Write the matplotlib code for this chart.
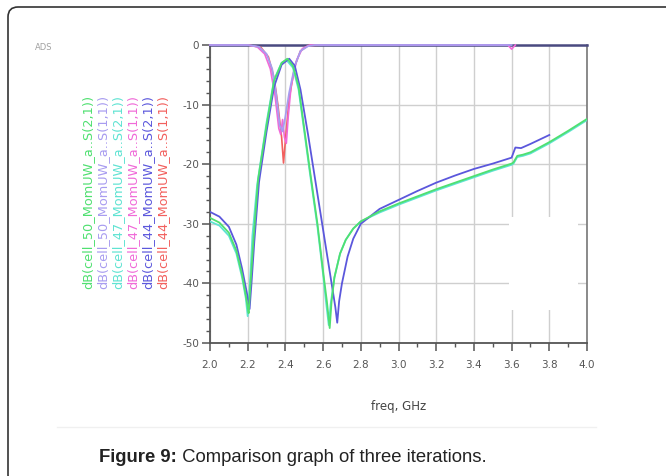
import matplotlib
matplotlib.use("Agg")
import matplotlib.pyplot as plt
from matplotlib.patches import FancyBboxPatch, Rectangle
from matplotlib.ticker import MultipleLocator

# S(2,1) traces (freq in GHz, level in dB)
f21_c50 = [2.0, 2.05, 2.1, 2.14, 2.17, 2.19, 2.2, 2.205, 2.215, 2.23, 2.255, 2.3, 2.34, 2.38, 2.41,
           2.44, 2.47, 2.5, 2.53, 2.57, 2.6, 2.62, 2.635, 2.645, 2.66, 2.69, 2.72, 2.76, 2.8,
           2.9, 3.0, 3.1, 3.2, 3.3, 3.4, 3.5, 3.6, 3.61, 3.63, 3.66, 3.7, 3.8, 3.9, 4.0]
s21_c50 = [-29.0, -29.8, -31.5, -34.5, -38.5, -42.0, -44.0, -45.0, -40.0, -33.0, -22.6, -13.5, -6.0, -3.0, -2.3,
           -3.5, -7.0, -14.0, -21.0, -30.0, -38.0, -43.0, -47.5, -43.0, -39.0, -35.0, -32.7, -30.8, -29.6,
           -27.9, -26.6, -25.4, -24.2, -23.1, -22.0, -20.9, -19.9, -19.7, -18.6, -18.4, -18.0, -16.3, -14.4, -12.4]

f21_c47 = [2.0, 2.05, 2.1, 2.14, 2.17, 2.19, 2.2, 2.21, 2.225, 2.25, 2.3, 2.34, 2.38, 2.405,
           2.44, 2.47, 2.5, 2.53, 2.57, 2.6, 2.615, 2.63, 2.64, 2.66, 2.69, 2.72, 2.76, 2.8,
           2.9, 3.0, 3.1, 3.2, 3.3, 3.4, 3.5, 3.6, 3.61, 3.63, 3.66, 3.7, 3.8, 3.9, 4.0]
s21_c47 = [-29.6, -30.3, -32.0, -35.0, -39.0, -42.5, -45.5, -41.0, -32.0, -23.5, -13.0, -5.8, -3.0, -2.5,
           -3.8, -7.5, -14.5, -21.5, -30.5, -38.5, -43.0, -47.0, -43.5, -39.0, -35.0, -32.7, -30.8, -29.6,
           -28.1, -26.8, -25.6, -24.4, -23.3, -22.2, -21.1, -20.1, -19.9, -18.8, -18.6, -18.2, -16.5, -14.6, -12.6]

f21_c44 = [2.0, 2.05, 2.1, 2.14, 2.17, 2.195, 2.21, 2.22, 2.235, 2.26, 2.3, 2.34, 2.38, 2.42,
           2.45, 2.48, 2.52, 2.55, 2.6, 2.64, 2.665, 2.675, 2.685, 2.7, 2.73, 2.76, 2.8,
           2.9, 3.0, 3.1, 3.2, 3.3, 3.4, 3.5, 3.58, 3.6, 3.62, 3.65, 3.7, 3.8]
s21_c44 = [-28.0, -28.8, -30.5, -33.5, -37.5, -41.5, -44.3, -40.0, -33.0, -23.0, -14.5, -7.0, -3.3, -2.3,
           -3.5, -7.5, -15.0, -21.0, -31.0, -39.0, -44.0, -46.6, -43.0, -40.0, -35.5, -32.5, -30.0,
           -27.5, -26.0, -24.5, -23.1, -21.9, -20.8, -19.9, -19.1, -18.9, -17.2, -17.3, -16.6, -15.1]

# S(1,1) traces
f11_c50 = [2.0, 2.2, 2.26, 2.3, 2.33, 2.35, 2.37, 2.385, 2.4, 2.42, 2.45, 2.48, 2.52, 2.56, 3.6]
s11_c50 = [0.0, 0.0, -0.3, -1.5, -4.0, -8.0, -13.5, -14.5, -12.0, -8.0, -3.5, -1.0, -0.2, 0.0, 0.0]

f11_c47 = [2.0, 2.2, 2.25, 2.29, 2.32, 2.345, 2.365, 2.375, 2.385, 2.395, 2.405, 2.415, 2.43, 2.46,
           2.49, 2.53, 3.58, 3.6, 3.62]
s11_c47 = [0.0, 0.0, -0.3, -1.5, -4.0, -8.5, -14.0, -15.0, -12.5, -15.5, -16.5, -12.0, -7.0, -2.5,
           -0.6, 0.0, 0.0, -0.7, 0.0]

f11_c44 = [2.0, 2.2, 2.27, 2.31, 2.34, 2.36, 2.38, 2.39, 2.4, 2.42, 2.45, 2.48, 2.52, 2.6]
s11_c44 = [0.0, 0.0, -0.4, -2.0, -5.5, -10.0, -15.5, -19.8, -16.0, -9.0, -3.5, -1.0, -0.1, 0.0]

labels = ["dB(cell_50_MomUW_a..S(2,1))", "dB(cell_50_MomUW_a..S(1,1))",
          "dB(cell_47_MomUW_a..S(2,1))", "dB(cell_47_MomUW_a..S(1,1))",
          "dB(cell_44_MomUW_a..S(2,1))", "dB(cell_44_MomUW_a..S(1,1))"]
colors = ["#4fe070", "#a89cf0", "#5fe3d2", "#f06ad8", "#5b57dc", "#f2605e"]

xticks = [2.0, 2.2, 2.4, 2.6, 2.8, 3.0, 3.2, 3.4, 3.6, 3.8, 4.0]
yticks = [0, -10, -20, -30, -40, -50]

W, H = 666, 476
fig = plt.figure(figsize=(W / 100, H / 100), dpi=100)
fig.patch.set_facecolor("white")

# outer card frame
frame = FancyBboxPatch((0.08, -0.09), 7.3, 4.78, boxstyle="round,pad=0,rounding_size=0.1",
                       transform=fig.dpi_scale_trans, facecolor="none", edgecolor="#333333", lw=1.2)
fig.add_artist(frame)

ax = fig.add_axes([210 / W, 1 - 343 / H, 377 / W, 298 / H])
ax.set_xlim(2.0, 4.0)
ax.set_ylim(-50, 0)
ax.set_axisbelow(True)
ax.grid(True, which="major", color="#cfcfcf", lw=1.0)

# draw order: underneath first
ax.plot(f11_c44, s11_c44, color=colors[5], lw=1.2, clip_on=False, zorder=3)
ax.plot(f11_c47, s11_c47, color=colors[3], lw=1.2, clip_on=False, zorder=3)
ax.plot(f11_c50, s11_c50, color=colors[1], lw=1.3, clip_on=False, zorder=3)
ax.plot(f21_c47, s21_c47, color=colors[2], lw=1.3, zorder=3)
ax.plot(f21_c44, s21_c44, color=colors[4], lw=1.3, zorder=3)
ax.plot(f21_c50, s21_c50, color=colors[0], lw=1.3, zorder=3)

# blank patch in the scanned figure
ax.add_patch(Rectangle((3.585, -44.5), 0.365, 15.7, facecolor="white", edgecolor="none", zorder=1))

for s in ["left", "bottom"]:
    ax.spines[s].set_color("#555555")
    ax.spines[s].set_linewidth(1.3)
ax.spines["right"].set_color("#777777")
ax.spines["right"].set_linewidth(1.2)
ax.spines["top"].set_color("#4a4a80")
ax.spines["top"].set_linewidth(1.8)

ax.set_xticks(xticks)
ax.set_xticklabels([f"{v:.1f}" for v in xticks])
ax.set_yticks(yticks)
ax.set_yticklabels([str(v) for v in yticks])
ax.xaxis.set_minor_locator(MultipleLocator(0.1))
ax.yaxis.set_minor_locator(MultipleLocator(2))
ax.tick_params(which="major", length=6, width=1.1, color="#555555", labelsize=7.5,
               labelcolor="#555555", pad=6)
ax.tick_params(which="minor", length=3, width=1.0, color="#555555")
ax.tick_params(axis="y", pad=2)
ax.set_xlabel("freq, GHz", fontsize=8.5, color="#444444", labelpad=22)

# rotated legend column
xs = [88, 103, 118, 133, 148, 163]
for x, lab, c in zip(xs, labels, colors):
    fig.text(x / W, 1 - 192 / H, lab, rotation=90, ha="center", va="center",
             fontsize=9.3, color=c, family="DejaVu Sans")

fig.text(44 / W, 1 - 47 / H, "ADS", fontsize=6, color="#a0a0a0", ha="center", va="center")

# faint bottom edge of the pasted image
fig.add_artist(plt.Line2D([57 / W, 596 / W], [1 - 427 / H] * 2, color="#f0f0f0", lw=1,
                          transform=fig.transFigure))

# caption
t1 = fig.text(99 / W, 1 - 457 / H, "Figure 9:", fontsize=13.3, fontweight="bold",
              family="Liberation Sans", color="#222222", va="center")
fig.canvas.draw()
bb = t1.get_window_extent()
fig.text(bb.x1 / W, 1 - 457 / H, " Comparison graph of three iterations.", fontsize=13.3,
         family="Liberation Sans", color="#222222", va="center")

fig.savefig("out.png", dpi=100)
